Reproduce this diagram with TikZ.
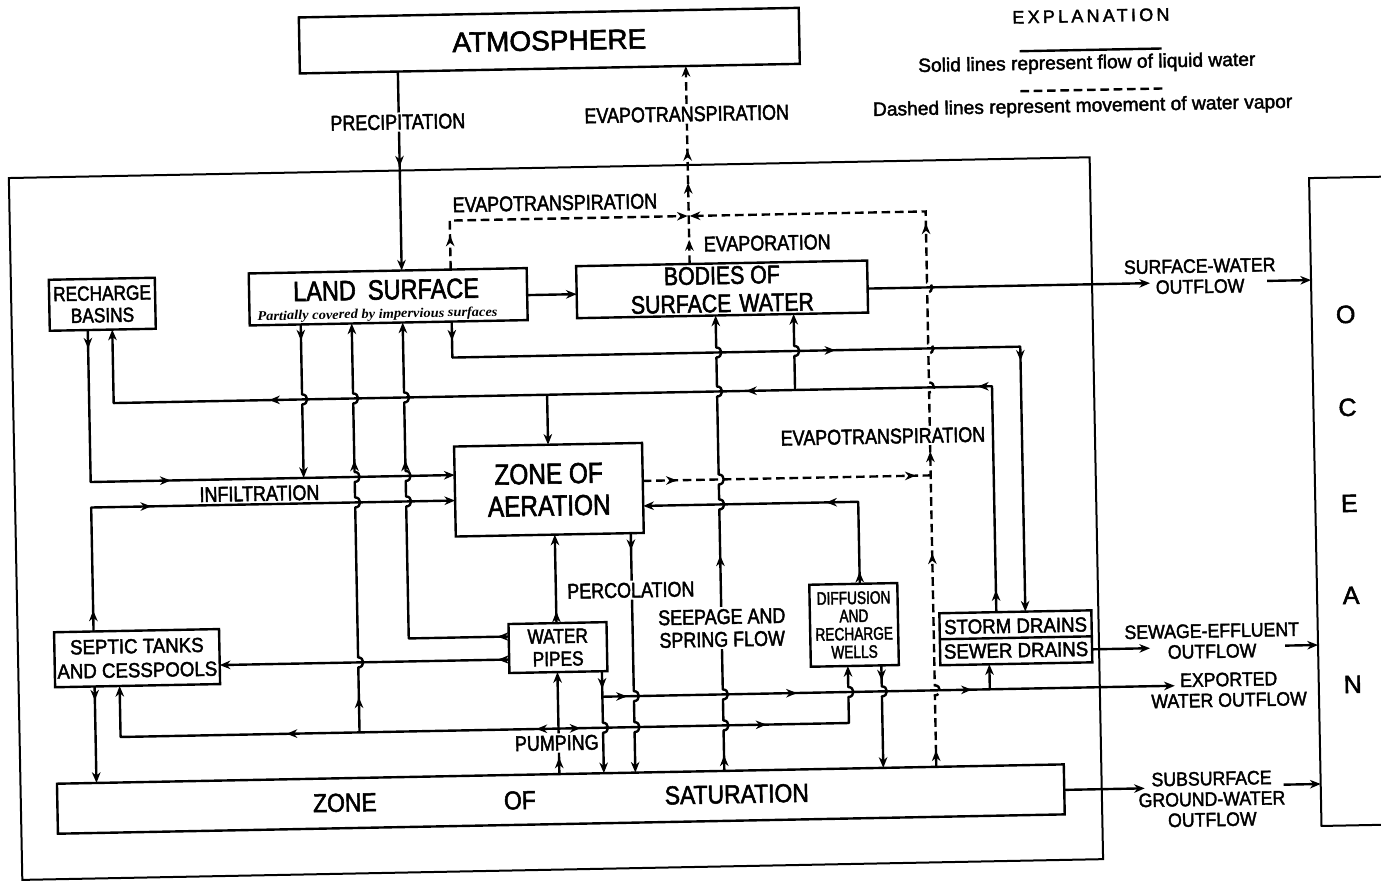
\documentclass[tikz,border=0pt]{standalone}
\usepackage{fontspec}
\setmainfont{Liberation Sans}
\newfontfamily\fnA{Liberation Sans}[FakeBold=2]
\newfontfamily\fnC{Liberation Sans}[FakeStretch=0.84,FakeBold=2]
\newfontfamily\fnR{Liberation Sans}[FakeStretch=0.91,FakeBold=2]
\newfontfamily\fnD{Liberation Sans}[FakeStretch=0.76,FakeBold=2]
\newfontfamily\fnZ{Liberation Sans}[FakeStretch=0.88,FakeBold=2]
\newfontfamily\fnI{Liberation Serif}[FakeStretch=1.08]
\newfontfamily\fnX{Liberation Sans}[LetterSpace=18,FakeBold=2]
\usetikzlibrary{arrows.meta}
\tikzset{
  ln/.style={line width=1.8pt, line join=round},
  dsh/.style={line width=1.8pt, dash pattern=on 6.5pt off 3.5pt},
  tipend/.style={-{Stealth[length=8pt,width=6.4pt,inset=2.5pt]}},
  tp/.style={-{Stealth[length=8pt,width=6.4pt,inset=2.5pt]}, line width=1.4pt},
  bx/.style={draw, line width=1.8pt, inner sep=0pt, outer sep=0pt, align=center},
  lbl/.style={fill=white, inner sep=1.5pt, align=center, font=\fnC\fontsize{16}{17}\selectfont},
  rlbl/.style={inner sep=1pt, align=center, font=\fnR\fontsize{14.6}{15.4}\selectfont},
  vjd/.style args={#1/#2}{insert path={-- (#1,#2-5) to[out=0,in=0,looseness=1.7] (#1,#2+5)}},
  vju/.style args={#1/#2}{insert path={-- (#1,#2+5) to[out=0,in=0,looseness=1.7] (#1,#2-5)}},
}
\newcommand\tipD[2]{\draw[tp] (#1,#2-3) -- (#1,#2);}
\newcommand\tipU[2]{\draw[tp] (#1,#2+3) -- (#1,#2);}
\newcommand\tipL[2]{\draw[tp] (#1+3,#2) -- (#1,#2);}
\newcommand\tipR[2]{\draw[tp] (#1-3,#2) -- (#1,#2);}
\begin{document}
\begin{tikzpicture}[x=0.75pt,y=-0.75pt]
\path[use as bounding box] (0,0) rectangle (1381,883);
\fill[white] (0,0) rectangle (1381,883);
\clip (0,0) rectangle (1381,883);
\begin{scope}[transform canvas={rotate around={1.1:(690,441)}}]
% ---------- boxes ----------
\node[bx, minimum width=375pt, minimum height=42pt, font=\fnA\fontsize{21}{25}\selectfont] (atm) at (557,38) {ATMOSPHERE};
\node[bx, minimum width=208.5pt, minimum height=39pt] (ls) at (391,291) {};
\node[inner sep=0pt, font=\fnC\fontsize{21}{24}\selectfont] (lsT) at (389,284) {LAND\hspace{9pt}SURFACE};
\node[inner sep=0pt, font=\fnI\bfseries\itshape\fontsize{10}{12}\selectfont] (lsI) at (380,309) {Partially covered by impervious surfaces};
\node[bx, minimum width=218.25pt, minimum height=39pt, font=\fnC\fontsize{19}{21}\selectfont] (bsw) at (725,290) {BODIES OF\\SURFACE\hspace{6pt}WATER};
\node[bx, minimum width=79.5pt, minimum height=38.25pt, font=\fnC\fontsize{15.4}{16.5}\selectfont] (rb) at (105,293) {RECHARGE\\BASINS};
\node[bx, minimum width=141pt, minimum height=67.5pt, font=\fnC\fontsize{21.75}{24}\selectfont] (za) at (548,487) {ZONE OF\\AERATION};
\node[bx, minimum width=73.5pt, minimum height=36.75pt, font=\fnC\fontsize{15.4}{17}\selectfont] (wp) at (554,645) {WATER\\PIPES};
\node[bx, minimum width=123.75pt, minimum height=41.25pt, font=\fnR\fontsize{15.4}{18}\selectfont] (st) at (133,647.5) {SEPTIC TANKS\\AND CESSPOOLS};
\node[bx, minimum width=66pt, minimum height=61.5pt, font=\fnD\fontsize{13.5}{13.5}\selectfont] (dw) at (850.5,628) {DIFFUSION\\AND\\RECHARGE\\WELLS};
\node[bx, minimum width=114pt, minimum height=39pt] (sd) at (1012,644) {};
\draw[line width=1.8pt] (sd.west) -- (sd.east);
\node[inner sep=0pt, font=\fnR\fontsize{15.4}{17}\selectfont] (sdT1) at (1012,632) {STORM DRAINS};
\node[inner sep=0pt, font=\fnR\fontsize{15.4}{17}\selectfont] (sdT2) at (1012,656.5) {SEWER DRAINS};
\node[bx, minimum width=755.25pt, minimum height=37.5pt] (zs) at (554,796.5) {};
\node[inner sep=0pt, font=\fnZ\fontsize{19.5}{21}\selectfont] (zsT1) at (338,796) {ZONE};
\node[inner sep=0pt, font=\fnZ\fontsize{19.5}{21}\selectfont] (zsT2) at (513,797) {OF};
\node[inner sep=0pt, font=\fnZ\fontsize{19.5}{21}\selectfont] (zsT3) at (730,795) {SATURATION};
\draw[line width=1.5pt] (14,165) rectangle (1095,867);
\node[draw, line width=1.5pt, inner sep=0pt, outer sep=0pt, minimum width=79.5pt, minimum height=486pt] (ocean) at (1367,514) {};
\foreach \ch/\yy in {O/327,C/420,E/516,A/608,N/697}
  \node[inner sep=0pt, font=\fnA\fontsize{18.75}{20}\selectfont] (oc\ch) at (1348,\yy) {\ch};
% ---------- legend ----------
\node[inner sep=0pt, font=\fnX\fontsize{13.5}{15}\selectfont] (exh) at (1099,23.6) {EXPLANATION};
\draw[ln] (1027,57.6) -- (1169,57.6);
\node[inner sep=0pt, font=\fnA\fontsize{14.4}{16}\selectfont] (ex1) at (1094,71.5) {Solid lines represent flow of liquid water};
\draw[dsh] (1027,97.6) -- (1169,97.6);
\node[inner sep=0pt, font=\fnA\fontsize{14.4}{16}\selectfont] (ex2) at (1089,114.5) {Dashed lines represent movement of water vapor};
% ---------- vapour (dashed) ----------
\draw[dsh,tipend] (693,0 |- bsw.north) -- (693,0 |- atm.south);
\tipU{693}{240} \tipU{693}{183} \tipU{693}{150}
\draw[dsh,tipend] (454,0 |- ls.north) -- (454,216) -- (692,216);
\tipU{454}{231}
\draw[dsh,tipend] (930,0 |- zs.north) [vju=930/695] [vju=930/392] [vju=930/353] [vju=930/292] -- (930,216) -- (694,216);
\tipU{930}{755} \tipU{930}{558} \tipU{930}{456} \tipU{930}{228}
\draw[dsh] (za.east |- 0,480) -- (930,480);
\tipR{676}{480} \tipR{915}{480}
% ---------- liquid (solid) ----------
\draw[ln,tipend] (405,0 |- atm.south) -- (405,0 |- ls.north);
\tipD{405}{161}
\draw[ln,tipend] (303,0 |- ls.south) [vjd=303/392] -- (303,470.5);
\tipD{303}{333}
\draw[ln,tipend] (354,726) [vju=354/656] [vju=354/496] [vju=354/470.5] [vju=354/392] -- (354,0 |- ls.south);
\tipU{354}{691} \tipU{354}{454}
\draw[ln,tipend] (wp.west |- 0,633) -- (405,633) [vju=405/496] [vju=405/470.5] [vju=405/392] -- (405,0 |- ls.south);
\tipL{494}{633} \tipU{405}{455}
\draw[ln,tipend] (454,0 |- ls.south) -- (454,353) -- (1022,353) -- (1022,0 |- sd.north);
\tipD{454}{336} \tipR{837}{353} \tipD{1022}{367}
\draw[ln,tipend] (993,0 |- sd.north) -- (993,392) -- (114.5,392) -- (114.5,0 |- rb.south);
\tipU{993}{596} \tipL{979}{392} \tipL{747}{392} \tipL{270}{392}
\draw[ln,tipend] (796,392) [vju=796/353] -- (796,0 |- bsw.south);
\draw[ln,tipend] (548,392) -- (548,0 |- za.north);
\draw[ln,tipend] (90,0 |- rb.south) -- (90,470.5) -- (za.west |- 0,470.5);
\tipD{90}{337} \tipR{170}{470.5}
\draw[ln,tipend] (90,0 |- st.north) -- (90,496) -- (za.west |- 0,496);
\tipU{90}{599} \tipR{150}{496}
\draw[ln,tipend] (90,0 |- st.south) -- (90,0 |- zs.north);
\tipD{90}{689}
\draw[ln,tipend] (wp.west |- 0,656) -- (st.east |- 0,656);
\tipL{494}{656}
\draw[ln,tipend] (553,726) -- (115,726) -- (115,0 |- st.south);
\tipL{531}{726} \tipL{281}{726}
\draw[ln,tipend] (553,726) -- (843.5,726) [vju=843.5/695] -- (843.5,0 |- dw.south);
\tipR{575}{726} \tipR{761}{726}
\draw[ln,tipend] (553,0 |- zs.north) -- (553,0 |- wp.south);
\tipU{553}{755}
\draw[ln,tipend] (597.5,0 |- wp.south) -- (597.5,695) [vjd=597.5/726] -- (597.5,0 |- zs.north);
\tipD{597.5}{687}
\draw[ln,tipend] (597.5,695) -- (1170,695);
\tipR{622}{695} \tipR{792}{695} \tipR{967}{695}
\draw[ln,tipend] (985,695) -- (985,0 |- sd.south);
\draw[ln,tipend] (877,0 |- dw.south) [vjd=877/695] -- (877,0 |- zs.north);
\tipD{877}{684}
\draw[ln,tipend] (857,0 |- dw.north) -- (857,505) -- (za.east |- 0,505);
\tipU{857}{575} \tipL{825}{505}
\draw[ln,tipend] (629,0 |- za.south) [vjd=629/695] [vjd=629/726] -- (629,0 |- zs.north);
\tipD{629}{549}
\draw[ln,tipend] (718,0 |- zs.north) [vju=718/726] [vju=718/695] [vju=718/505] [vju=718/480] [vju=718/392] [vju=718/353] -- (718,0 |- bsw.south);
\tipU{718}{756} \tipU{718}{556}
\draw[ln,tipend] (553,0 |- wp.north) -- (553,0 |- za.south);
\tipU{553}{609}
\draw[ln,tipend] (ls.east |- 0,292) -- (bsw.west |- 0,292);
\draw[ln,tipend] (bsw.east |- 0,292) -- (1153,292);
\draw[ln,tipend] (1270,292) -- (ocean.west |- 0,292);
\draw[ln,tipend] (sd.east |- 0,657) -- (1146,657);
\draw[ln,tipend] (1281,657) -- (ocean.west |- 0,657);
\draw[ln,tipend] (zs.east |- 0,797) -- (1138,797);
\draw[ln,tipend] (1277,796) -- (ocean.west |- 0,796);
% ---------- labels ----------
\node[lbl] (pre) at (404,116.5) {PRECIPITATION};
\node[lbl] (evt1) at (693,114) {EVAPOTRANSPIRATION};
\node[lbl] (evt2) at (559.5,200.4) {EVAPOTRANSPIRATION};
\node[lbl] (evp) at (771,244.5) {EVAPORATION};
\node[lbl] (evt3) at (883,440) {EVAPOTRANSPIRATION};
\node[lbl, fill=none] (inf) at (258.5,485.3) {INFILTRATION};
\node[lbl] (per) at (628,589) {PERCOLATION};
\node[lbl] (see) at (718.4,628.6) {SEEPAGE AND\\SPRING FLOW};
\node[lbl] (pum) at (551,740.4) {PUMPING};
\node[rlbl] (sfo) at (1203,286) {SURFACE-WATER\\OUTFLOW};
\node[rlbl] (seo) at (1208,651) {SEWAGE-EFFLUENT\\OUTFLOW};
\node[rlbl] (exo) at (1224,700) {EXPORTED\\WATER OUTFLOW};
\node[rlbl] (sso) at (1205,809) {SUBSURFACE\\GROUND-WATER\\OUTFLOW};
\end{scope}
\end{tikzpicture}
\end{document}
